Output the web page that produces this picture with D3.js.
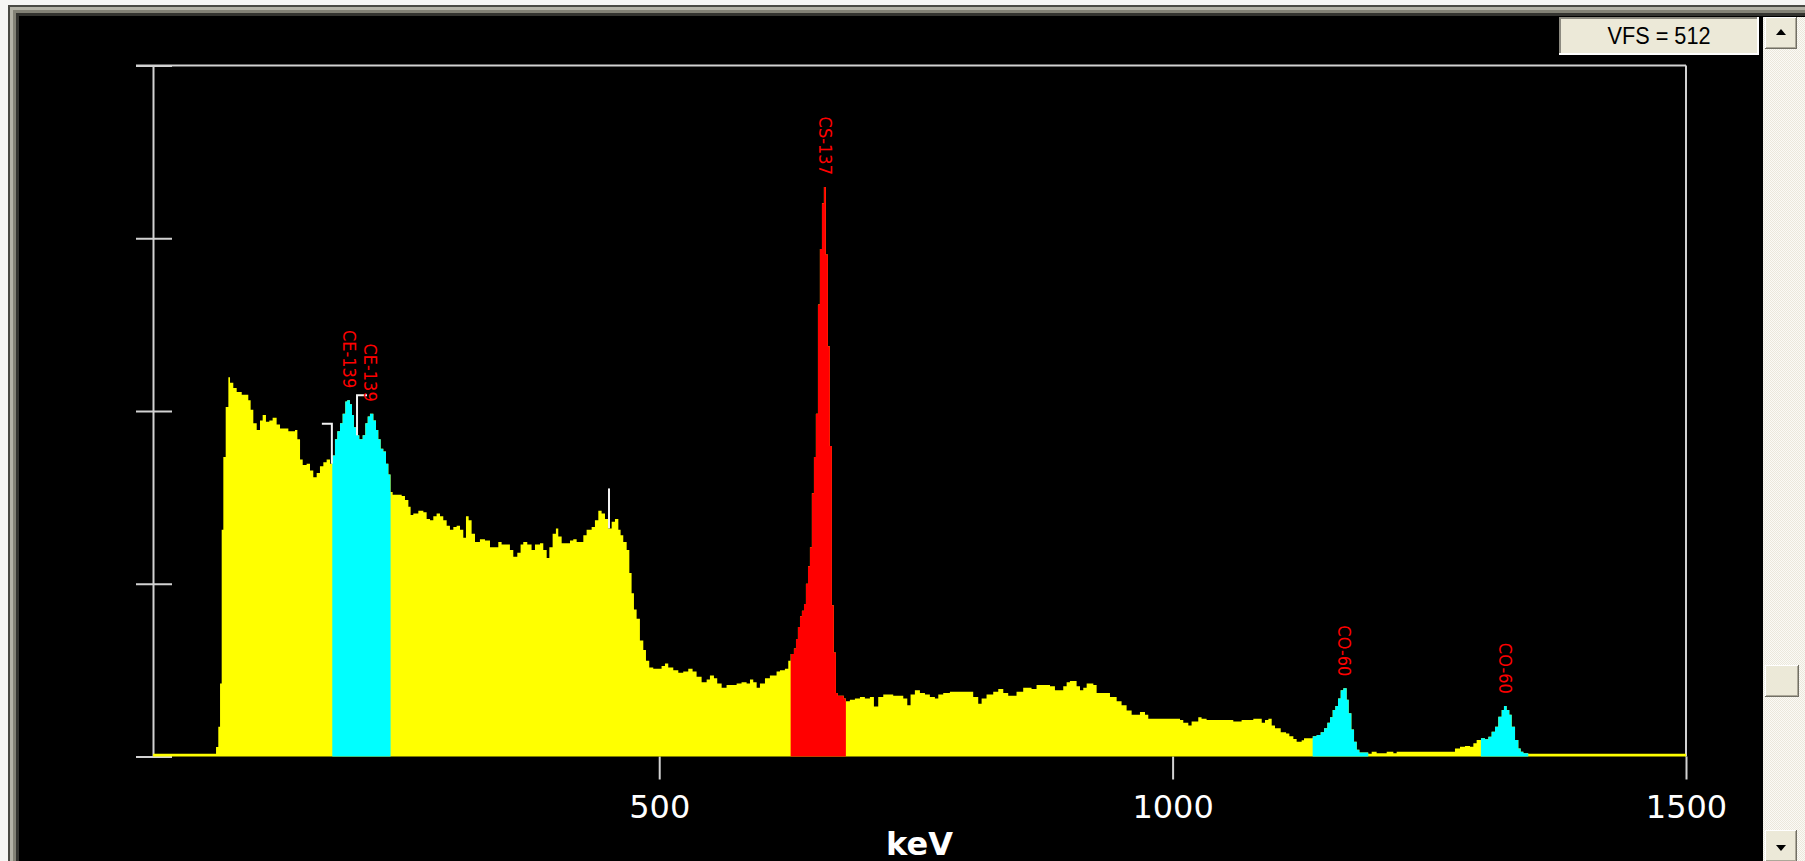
<!DOCTYPE html>
<html>
<head>
<meta charset="utf-8">
<script src="https://cdn.jsdelivr.net/npm/d3@7"></script>
<style>
  body { margin: 0; background: #f6f6f4; }
  svg { display: block; }
</style>
</head>
<body>
<div class="canvas"></div>
<script>
// spectrum as steps: [keV at left edge of step, counts]
const spectrum = [
  [7, 2], [68.4, 7], [70.6, 22], [72.3, 54], [73.9, 168], [75.5, 222], [77.8, 259], [80.4, 281],
  [82.0, 277], [85.2, 273], [88.5, 270], [93.4, 268], [99.8, 264], [102.1, 257], [104.7, 247],
  [108.0, 242], [111.2, 249], [113.8, 253], [117.0, 248], [120.3, 249], [123.5, 251], [127.4, 246],
  [130.7, 243], [138.8, 241], [145.3, 242], [147.6, 235], [150.2, 220], [152.8, 216], [156.6, 217],
  [159.9, 212], [163.1, 207], [166.4, 210], [169.6, 215], [172.9, 218], [176.1, 220], [179.4, 217],
  [181.6, 223], [184.2, 235], [186.5, 241], [189.1, 247], [191.7, 254], [194.3, 263], [196.2, 264],
  [198.8, 261], [200.8, 253], [202.7, 244], [205.3, 238], [207.9, 235], [211.2, 238], [213.8, 247],
  [216.1, 252], [218.3, 254], [221.6, 249], [224.2, 242], [226.4, 235], [228.7, 228], [231.3, 226],
  [233.9, 217], [236.2, 209],
  [238.4, 196], [240.4, 194], [249.2, 193], [252.4, 190], [255.7, 185], [257.9, 179], [260.5, 180],
  [265.4, 182], [270.3, 181], [273.5, 176], [276.8, 175], [280.0, 178], [283.2, 180], [286.5, 178],
  [289.7, 175], [293.0, 171], [296.2, 168], [299.5, 170], [302.7, 171], [306.0, 168], [309.2, 162],
  [311.8, 178], [314.4, 175], [317.3, 165], [320.6, 159], [325.4, 161], [330.3, 160], [335.2, 155],
  [343.3, 159], [346.5, 157], [354.6, 153], [357.9, 148], [361.8, 151], [365.0, 157], [367.6, 159],
  [371.5, 157], [375.7, 153], [379.0, 157], [383.9, 158], [387.1, 153], [390.4, 147], [393.0, 155],
  [396.2, 165], [399.4, 169], [401.7, 163], [405.0, 158], [413.1, 160], [416.3, 161], [419.6, 159],
  [426.1, 164], [429.3, 168], [434.2, 170], [437.4, 175], [440.7, 182], [443.9, 180], [447.2, 176],
  [450.4, 169], [453.7, 174], [456.9, 176], [460.2, 168], [462.4, 164], [465.0, 159], [468.3, 153],
  [470.9, 136], [473.1, 121], [475.4, 109], [478.0, 102], [481.2, 86], [484.5, 79], [487.1, 71],
  [490.3, 66], [494.2, 65], [502.3, 67], [505.6, 69], [508.8, 66], [513.7, 64], [518.6, 62],
  [523.4, 63], [528.3, 65], [532.5, 63], [536.4, 59], [541.3, 55], [546.2, 57], [549.4, 60],
  [553.3, 58], [556.5, 54], [560.8, 51], [565.6, 53], [575.4, 54], [580.2, 55], [585.1, 54],
  [588.4, 57], [591.6, 55], [594.9, 51], [598.1, 54], [603.0, 58], [607.8, 60], [614.3, 63],
  [617.6, 64], [622.4, 65], [625.7, 71],
  [628.0, 76], [631.2, 80], [633.2, 87], [635.1, 96], [637.1, 104], [639.0, 108], [641.0, 113],
  [642.9, 128], [644.9, 141], [646.8, 155], [648.7, 195], [650.7, 222], [652.6, 254], [654.6, 335],
  [656.5, 376], [658.5, 410], [660.4, 422], [662.3, 372], [664.3, 304], [666.2, 230], [668.2, 112],
  [670.1, 77], [672.1, 47], [674.0, 45], [679.8, 43],
  [681.8, 41], [685.7, 42], [690.6, 43], [695.5, 44], [700.3, 43], [705.2, 44], [709.1, 37],
  [713.3, 44], [718.2, 46], [727.9, 45], [737.7, 43], [741.6, 38], [744.8, 46], [749.0, 49],
  [753.9, 47], [758.8, 46], [763.6, 44], [768.5, 43], [771.8, 46], [776.6, 47], [783.1, 48],
  [805.8, 44], [810.7, 39], [814.0, 43], [818.8, 46], [825.3, 48], [830.2, 50], [835.1, 47],
  [839.9, 45], [848.0, 48], [854.5, 51], [862.6, 50], [867.5, 53], [880.6, 52], [885.4, 49],
  [893.5, 52], [896.8, 55], [900.0, 56], [906.5, 52], [909.8, 49], [913.0, 51], [916.3, 54],
  [922.8, 53], [926.0, 47], [939.0, 44], [945.5, 41], [950.3, 38], [955.2, 34], [960.1, 31],
  [968.2, 33], [973.1, 31], [976.3, 28], [1007.2, 27], [1010.4, 25], [1015.3, 23], [1018.5, 26],
  [1025.0, 29], [1028.2, 28], [1033.1, 27], [1059.1, 26], [1067.2, 27], [1078.6, 28], [1086.8, 25],
  [1090.0, 27], [1093.3, 28], [1096.5, 23], [1099.7, 21], [1105.3, 18], [1110.5, 17], [1113.7, 15],
  [1117.6, 13], [1120.8, 11], [1125.7, 12], [1128.0, 13.5],
  [1136.4, 15], [1140.3, 16], [1144.2, 18], [1147.5, 21], [1150.7, 25], [1153.3, 29], [1155.9, 34.5],
  [1158.5, 37.5], [1161.1, 43], [1163.7, 49], [1166.3, 50.5], [1169.5, 42], [1171.5, 32], [1174.1, 20],
  [1176.7, 11], [1179.3, 5], [1181.9, 3],
  [1190.6, 2], [1193.9, 3.6], [1198.7, 2.4], [1208.5, 3.6], [1215.0, 2.4], [1218.2, 3.6], [1275.0, 6],
  [1279.9, 7.3], [1284.8, 7.8], [1289.6, 7.3], [1292.9, 9.8], [1296.1, 12.3],
  [1300.3, 13.5], [1304.2, 12.8], [1307.5, 14.7], [1310.7, 18.4], [1314.0, 22], [1317.2, 29.5],
  [1320.5, 34.5], [1322.7, 37.5], [1325.3, 34.5], [1327.9, 31], [1330.2, 22], [1333.5, 12.3],
  [1336.7, 6], [1339.0, 3.6], [1341.6, 2.4],
  [1346.4, 2]
];

// regions of interest (keV)
const rois = [
  { from: 181.6, to: 238.4, color: '#00ffff' },
  { from: 628.0, to: 681.8, color: '#ff0000' },
  { from: 1136.4, to: 1190.6, color: '#00ffff' },
  { from: 1300.3, to: 1346.4, color: '#00ffff' }
];

const peakLabels = [
  { name: 'CE-139', keV: 197.9 },
  { name: 'CE-139', keV: 218.3 },
  { name: 'CS-137', keV: 661.5 },
  { name: 'CO-60', keV: 1166.9 },
  { name: 'CO-60', keV: 1324 }
];

// peak search markers: hook -1 = to the left, 1 = to the right, 0 = none
const markers = [
  { keV: 181.2, hook: -1 },
  { keV: 205.7, hook: 1 },
  { keV: 451.1, hook: 0 }
];

const xTicks = [500, 1000, 1500];
const yTicks = [0, 128, 256, 384, 512];
const vfs = 512;
const energyRange = [7, 1500];

const width = 1805;
const height = 861;
const margin = { top: 65.5, right: 119, bottom: 104.5, left: 153 };
const graphWidth = width - margin.left - margin.right;
const graphHeight = height - margin.top - margin.bottom;

const svg = d3.select('.canvas')
    .append('svg')
    .attr('width', width)
    .attr('height', height);

// window chrome
const defs = svg.append('defs');
const dither = defs.append('pattern')
    .attr('id', 'dither')
    .attr('width', 2).attr('height', 2)
    .attr('patternUnits', 'userSpaceOnUse');
dither.append('rect').attr('width', 2).attr('height', 2).attr('fill', '#fbfaf6');
dither.append('rect').attr('width', 1).attr('height', 1).attr('fill', '#ebe8dc');
dither.append('rect').attr('x', 1).attr('y', 1).attr('width', 1).attr('height', 1).attr('fill', '#ebe8dc');

const bevel = [
  { x: 8, y: 5, fill: '#4a4a44' },
  { x: 10, y: 7, fill: '#b3b2a6' },
  { x: 13, y: 10, fill: '#838276' },
  { x: 16, y: 13, fill: '#33332f' },
  { x: 19, y: 16, fill: '#000000' }
];
svg.selectAll('rect.bevel')
    .data(bevel)
    .enter()
    .append('rect')
    .attr('class', 'bevel')
    .attr('x', d => d.x)
    .attr('y', d => d.y)
    .attr('width', d => width - d.x)
    .attr('height', d => height - d.y)
    .attr('fill', d => d.fill);

// scrollbar
const sb = svg.append('g');
sb.append('rect').attr('x', 1763).attr('y', 17).attr('width', 42).attr('height', height - 17)
    .attr('fill', 'url(#dither)');

const button = (g, bx, by, w, h) => {
  g.append('rect').attr('x', bx).attr('y', by).attr('width', w).attr('height', h).attr('fill', '#716f64');
  g.append('rect').attr('x', bx).attr('y', by).attr('width', w - 1).attr('height', h - 1).attr('fill', '#ffffff');
  g.append('rect').attr('x', bx + 1).attr('y', by + 1).attr('width', w - 2).attr('height', h - 2).attr('fill', '#aca899');
  g.append('rect').attr('x', bx + 1).attr('y', by + 1).attr('width', w - 3).attr('height', h - 3).attr('fill', '#ece9d8');
};
button(sb, 1765, 17, 32, 32);
button(sb, 1765, 665, 34, 32);
button(sb, 1765, 830, 32, 32);
sb.append('path').attr('d', 'M1776,35 L1786,35 L1781,29 Z').attr('fill', '#000');
sb.append('path').attr('d', 'M1776,845 L1786,845 L1781,851 Z').attr('fill', '#000');

// VFS box
const vfsBox = svg.append('g');
vfsBox.append('rect').attr('x', 1559).attr('y', 17).attr('width', 200).attr('height', 38).attr('fill', '#ffffff');
vfsBox.append('rect').attr('x', 1559).attr('y', 17).attr('width', 198).attr('height', 36).attr('fill', '#8c8a80');
vfsBox.append('rect').attr('x', 1561).attr('y', 19).attr('width', 196).attr('height', 34).attr('fill', '#ece9d8');
vfsBox.append('text')
    .attr('x', 1659).attr('y', 44)
    .attr('text-anchor', 'middle')
    .attr('font-family', 'Liberation Sans, Arial, sans-serif')
    .attr('font-size', 24)
    .attr('textLength', 103)
    .attr('lengthAdjust', 'spacingAndGlyphs')
    .attr('fill', '#000')
    .text(`VFS = ${vfs}`);

const graph = svg.append('g')
    .attr('transform', `translate(${margin.left}, ${margin.top})`);

// scales
const x = d3.scaleLinear().domain(energyRange).range([0, graphWidth]);
const y = d3.scaleLinear().domain([0, vfs]).range([graphHeight, 0]);

const axisColor = '#d2d2d2';

// frame (top and right)
graph.append('line')
    .attr('x1', -17).attr('x2', x(energyRange[1]))
    .attr('y1', y(vfs)).attr('y2', y(vfs))
    .attr('stroke', axisColor).attr('stroke-width', 2);
graph.append('line')
    .attr('x1', x(energyRange[1])).attr('x2', x(energyRange[1]))
    .attr('y1', y(vfs)).attr('y2', y(0))
    .attr('stroke', axisColor).attr('stroke-width', 2);

// axes
const yAxis = d3.axisLeft(y)
    .tickValues(yTicks)
    .tickSize(17)
    .tickSizeOuter(0)
    .tickFormat('');
const yAxisGroup = graph.append('g').attr('class', 'y-axis').call(yAxis);
yAxisGroup.selectAll('.tick line').attr('x1', 19);
yAxisGroup.selectAll('line, path').attr('stroke', axisColor).attr('stroke-width', 2);

const xAxis = d3.axisBottom(x)
    .tickValues(xTicks)
    .tickSize(23)
    .tickFormat(d3.format('d'));
const xAxisGroup = graph.append('g')
    .attr('class', 'x-axis')
    .attr('transform', `translate(0, ${graphHeight})`)
    .call(xAxis);
xAxisGroup.select('.domain').remove();
xAxisGroup.selectAll('line').attr('stroke', axisColor).attr('stroke-width', 2);
xAxisGroup.selectAll('text')
    .attr('y', 61.5)
    .attr('dy', 0)
    .attr('fill', '#ffffff')
    .attr('font-family', 'DejaVu Sans, sans-serif')
    .attr('font-size', 32);

graph.append('text')
    .attr('x', graphWidth / 2)
    .attr('y', graphHeight + 98.5)
    .attr('text-anchor', 'middle')
    .attr('fill', '#ffffff')
    .attr('font-family', 'DejaVu Sans, sans-serif')
    .attr('font-weight', 'bold')
    .attr('font-size', 32)
    .text('keV');

// spectrum
const data = spectrum.map(([e, c]) => ({ e, c }));
data.push({ e: energyRange[1], c: data[data.length - 1].c });

const bisect = d3.bisector(d => d.e).right;
const countAt = e => data[Math.max(0, bisect(data, e) - 1)].c;

const area = d3.area()
    .curve(d3.curveStepAfter)
    .x(d => x(d.e))
    .y0(y(0))
    .y1(d => y(d.c));

graph.append('path')
    .datum(data)
    .attr('fill', '#ffff00')
    .attr('d', area);

rois.forEach((r, i) => {
  defs.append('clipPath')
      .attr('id', `roi${i}`)
      .append('rect')
      .attr('x', x(r.from))
      .attr('y', -10)
      .attr('width', x(r.to) - x(r.from))
      .attr('height', graphHeight + 20);
  graph.append('path')
      .datum(data)
      .attr('clip-path', `url(#roi${i})`)
      .attr('fill', r.color)
      .attr('d', area);
});

// markers
graph.selectAll('path.marker')
    .data(markers)
    .enter()
    .append('path')
    .attr('class', 'marker')
    .attr('fill', 'none')
    .attr('stroke', '#f2f2f2')
    .attr('stroke-width', 2)
    .attr('d', d => {
      const mx = x(d.keV), my = y(countAt(d.keV));
      return `M${mx},${my} L${mx},${my - 40} L${mx + d.hook * 10},${my - 40}`;
    });

// peak labels
graph.selectAll('text.peak')
    .data(peakLabels)
    .enter()
    .append('text')
    .attr('class', 'peak')
    .attr('transform', d => `translate(${x(d.keV)}, ${y(countAt(d.keV)) - 12}) rotate(90)`)
    .attr('text-anchor', 'end')
    .attr('dy', '0.35em')
    .attr('fill', '#ff0000')
    .attr('font-family', 'Liberation Sans Narrow, DejaVu Sans Condensed, sans-serif')
    .attr('font-stretch', 'condensed')
    .attr('font-size', 18)
    .text(d => d.name);
</script>
</body>
</html>
